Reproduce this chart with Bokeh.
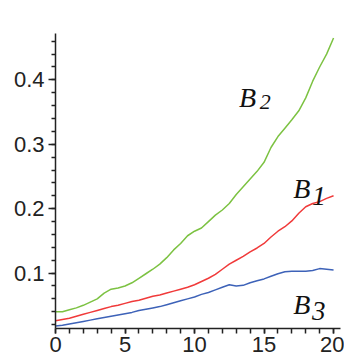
from bokeh.plotting import figure
from bokeh.models import FixedTicker, Range1d
from bokeh.core.properties import value
from bokeh.embed import file_html
from bokeh.resources import INLINE

t = [i * 0.5 for i in range(41)]
b2 = [0.040, 0.040, 0.043, 0.046, 0.050, 0.055, 0.060, 0.069, 0.075, 0.077,
      0.080, 0.085, 0.092, 0.099, 0.106, 0.114, 0.124, 0.136, 0.146, 0.158,
      0.165, 0.170, 0.180, 0.190, 0.198, 0.208, 0.222, 0.234, 0.246, 0.258,
      0.272, 0.295, 0.312, 0.325, 0.338, 0.352, 0.372, 0.398, 0.420, 0.440, 0.465]
b1 = [0.026, 0.028, 0.030, 0.033, 0.036, 0.039, 0.042, 0.045, 0.048, 0.050,
      0.053, 0.056, 0.058, 0.061, 0.064, 0.066, 0.069, 0.072, 0.075, 0.078,
      0.082, 0.087, 0.092, 0.098, 0.106, 0.114, 0.120, 0.126, 0.133, 0.139,
      0.146, 0.156, 0.165, 0.172, 0.181, 0.193, 0.203, 0.208, 0.211, 0.216, 0.220]
b3 = [0.018, 0.019, 0.021, 0.023, 0.025, 0.027, 0.029, 0.031, 0.033, 0.035,
      0.037, 0.039, 0.042, 0.044, 0.046, 0.048, 0.051, 0.054, 0.057, 0.060,
      0.063, 0.067, 0.070, 0.074, 0.078, 0.082, 0.080, 0.081, 0.085, 0.088,
      0.091, 0.095, 0.099, 0.102, 0.103, 0.103, 0.103, 0.104, 0.107, 0.106, 0.105]

x_ticks = [0, 5, 10, 15, 20]
x_minor = list(range(0, 21))
y_ticks = [0.1, 0.2, 0.3, 0.4]
y_minor = [round(0.02 * i, 2) for i in range(1, 24)]

lbl_main = ["B", "B", "B"]
lbl_sub = ["2", "1", "3"]
lbl_x = [13.2, 17.1, 17.1]
lbl_y = [0.372, 0.231, 0.051]
sub_x = [14.7, 18.45, 18.45]
sub_y = [0.366, 0.220, 0.0415]
sub_size = ["22px", "28px", "27px"]

p = figure(width=344, height=361, output_backend="svg", toolbar_location=None,
           x_range=Range1d(0, 20.5), y_range=Range1d(0.014, 0.472),
           min_border_left=55, min_border_right=4, min_border_top=33, min_border_bottom=33)
p.outline_line_color = None
p.grid.visible = False
p.background_fill_color = "white"
p.border_fill_color = "white"

p.line(t, b2, line_color="#7cc242", line_width=1.5)
p.line(t, b1, line_color="#f03a3a", line_width=1.5)
p.line(t, b3, line_color="#3d62b8", line_width=1.5)

p.text(x=lbl_x, y=lbl_y, text=lbl_main, text_font=value("Liberation Serif"),
       text_font_style="italic", text_font_size="28px", text_color="#111111",
       text_baseline="alphabetic", text_align="left")
for i in range(3):
    p.text(x=[sub_x[i]], y=[sub_y[i]], text=[lbl_sub[i]], text_font=value("Liberation Serif"),
           text_font_style="italic", text_font_size=sub_size[i], text_color="#111111",
           text_baseline="alphabetic", text_align="left")

for ax in (p.xaxis[0], p.yaxis[0]):
    ax.axis_line_color = "#222222"
    ax.axis_line_width = 1.5
    ax.major_tick_line_color = "#222222"
    ax.minor_tick_line_color = "#222222"
    ax.major_tick_line_width = 1.5
    ax.minor_tick_line_width = 1.5
    ax.major_tick_in = 0
    ax.minor_tick_in = 0
    ax.major_label_text_font = "Liberation Sans"
    ax.major_label_text_font_size = "22px"
    ax.major_label_text_color = "#222222"

p.xaxis[0].ticker = FixedTicker(ticks=x_ticks, minor_ticks=x_minor)
p.yaxis[0].ticker = FixedTicker(ticks=y_ticks, minor_ticks=y_minor)
p.xaxis[0].major_tick_out = 5
p.xaxis[0].minor_tick_out = 5
p.xaxis[0].major_label_standoff = 3
p.yaxis[0].major_tick_out = 7
p.yaxis[0].minor_tick_out = 4
p.yaxis[0].major_label_standoff = 4

open("out.html", "w").write(file_html(p, INLINE))
